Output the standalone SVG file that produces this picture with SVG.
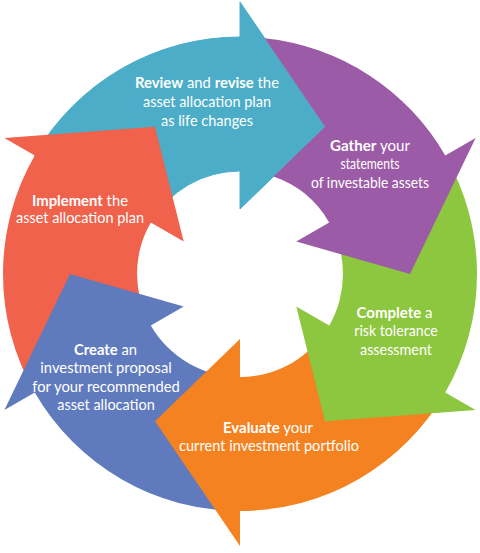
<svg xmlns="http://www.w3.org/2000/svg" width="480" height="553" viewBox="0 0 480 553">
<style>
  text { font-family: Lato, "Open Sans", "Liberation Sans", sans-serif; font-size: 15px; fill: #ffffff; text-anchor: middle; }
  .b { font-weight: 700; }
  .teal { fill: #4BADC7; stroke: #4BADC7; stroke-width: 1; }
  .red { fill: #F0624B; }
  .blue { fill: #5F7ABD; }
  .orange { fill: #F58220; }
  .green { fill: #8DC63F; }
  .purple { fill: #9C5BA6; }
</style>
<rect width="480" height="553" fill="#ffffff"/>
<g id="connectors"></g>
<g id="review">
  <path class="teal" d="M34.75,155.5 A237,237 0 0 1 240,37 L240,2 L325,126.8 L240,209 L240,171 A103,103 0 0 0 150.8,222.5 Z"/>
  <text x="207" y="88" textLength="144" lengthAdjust="spacingAndGlyphs"><tspan class="b">Review</tspan> and <tspan class="b">revise</tspan> the</text>
  <text x="207" y="107" textLength="128" lengthAdjust="spacingAndGlyphs">asset allocation plan</text>
  <text x="207" y="126" textLength="92" lengthAdjust="spacingAndGlyphs">as life changes</text>
</g>
<g id="implement">
  <path class="red" d="M34.75,392.5 A237,237 0 0 1 34.75,155.5 L4.4,138 L155,126.8 L183.7,241.5 L150.8,222.5 A103,103 0 0 0 150.8,325.5 Z"/>
  <text x="80" y="205.5" textLength="96" lengthAdjust="spacingAndGlyphs"><tspan class="b">Implement</tspan> the</text>
  <text x="80" y="223" textLength="128" lengthAdjust="spacingAndGlyphs">asset allocation plan</text>
</g>
<g id="create">
  <path class="blue" d="M240,511 A237,237 0 0 1 34.75,392.5 L4.4,410 L70,274 L183.7,306.5 L150.8,325.5 A103,103 0 0 0 240,377 Z"/>
  <text x="105.5" y="355" textLength="63" lengthAdjust="spacingAndGlyphs"><tspan class="b">Create</tspan> an</text>
  <text x="106" y="373.3" textLength="131.5" lengthAdjust="spacingAndGlyphs">investment proposal</text>
  <text x="106" y="391.7" textLength="147.5" lengthAdjust="spacingAndGlyphs">for your recommended</text>
  <text x="106" y="410" textLength="97.5" lengthAdjust="spacingAndGlyphs">asset allocation</text>
</g>
<g id="evaluate">
  <path class="orange" d="M445.25,392.5 A237,237 0 0 1 240,511 L240,546 L155,421.2 L240,339 L240,377 A103,103 0 0 0 329.2,325.5 Z"/>
  <text x="268" y="433.3" textLength="90" lengthAdjust="spacingAndGlyphs"><tspan class="b">Evaluate</tspan> your</text>
  <text x="269" y="451" textLength="180" lengthAdjust="spacingAndGlyphs">current investment portfolio</text>
</g>
<g id="complete">
  <path class="green" d="M445.25,155.5 A237,237 0 0 1 445.25,392.5 L475.6,410 L325,421.2 L296.3,306.5 L329.2,325.5 A103,103 0 0 0 329.2,222.5 Z"/>
  <text x="394.5" y="317.7" textLength="76" lengthAdjust="spacingAndGlyphs"><tspan class="b">Complete</tspan> a</text>
  <text x="396" y="336.3" textLength="83.5" lengthAdjust="spacingAndGlyphs">risk tolerance</text>
  <text x="396" y="354.7" textLength="72" lengthAdjust="spacingAndGlyphs">assessment</text>
</g>
<g id="gather">
  <path class="purple" d="M264.7,38.3 A237,237 0 0 1 445.25,155.5 L475.6,138 L410,274 L296.3,241.5 L329.2,222.5 A103,103 0 0 0 273.5,176.6 L325,126.8 Z"/>
  <text x="370" y="150.5" textLength="80" lengthAdjust="spacingAndGlyphs"><tspan class="b">Gather</tspan> your</text>
  <text x="370" y="169.3" textLength="59" lengthAdjust="spacingAndGlyphs">statements</text>
  <text x="370" y="188" textLength="118" lengthAdjust="spacingAndGlyphs">of investable assets</text>
</g>
</svg>
